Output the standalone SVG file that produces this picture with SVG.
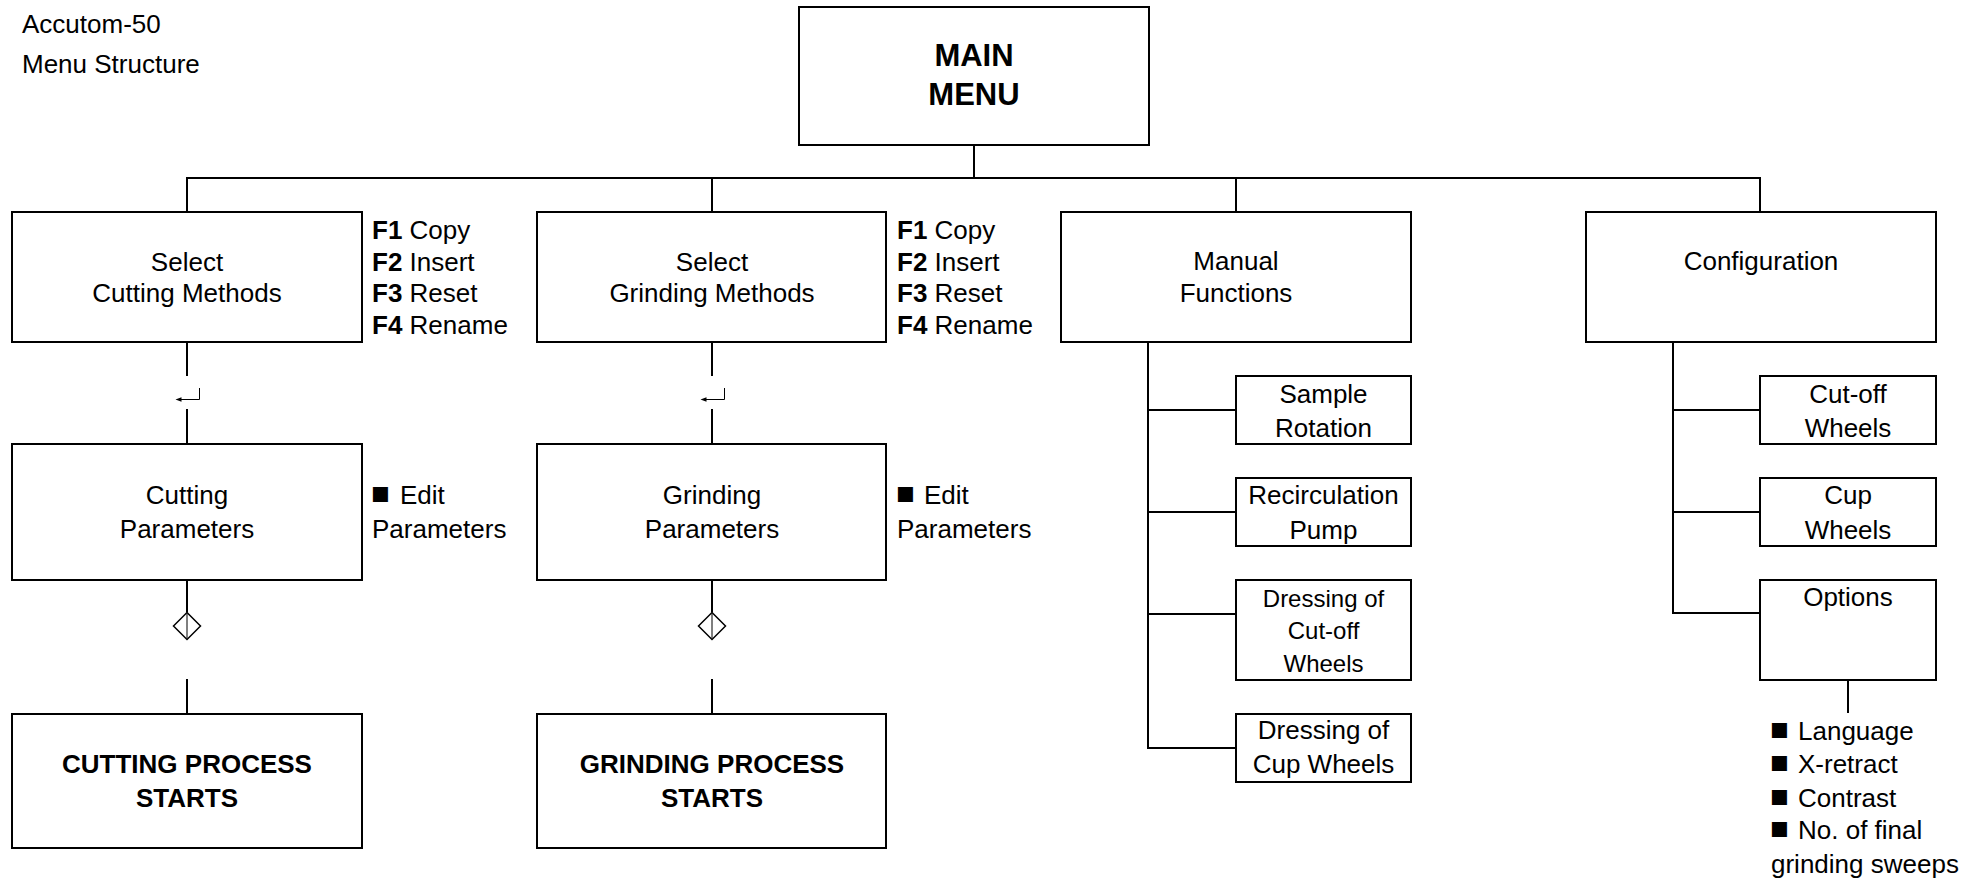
<svg xmlns="http://www.w3.org/2000/svg" width="1984" height="881" viewBox="0 0 1984 881">
  <style>
    .box { fill: #fff; stroke: #000; stroke-width: 2; }
    .ln { fill: none; stroke: #000; stroke-width: 2; }
    .thin { fill: none; stroke: #000; stroke-width: 1; }
    .dia { fill: #fff; stroke: #000; stroke-width: 1.5; }
    text { font-family: "Liberation Sans", Arial, Helvetica, sans-serif; font-size: 26px; fill: #000; }
    .c { text-anchor: middle; }
    .b { font-weight: bold; }
    .big { font-size: 31px; font-weight: bold; }
    .sm { font-size: 24px; }
    .sq { font-size: 31px; }
  </style>
  <defs>
    <!-- "enter" key glyph drawn on the vertical flow line -->
    <g id="enter">
      <path class="thin" d="M12.5 -11.5 V0 H-9"/>
      <path d="M-11.5 0 L-5.5 -2.2 L-5.5 2.2 Z" fill="#000"/>
    </g>
    <!-- start key diamond -->
    <g id="start">
      <path class="dia" d="M0 -13.5 L13.5 0 L0 13.5 L-13.5 0 Z"/>
      <line class="thin" x1="0" y1="-12" x2="0" y2="12"/>
    </g>
  </defs>

  <rect width="1984" height="881" fill="#fff"/>

  <!-- title -->
  <g id="title">
    <text x="22" y="33">Accutom-50</text>
    <text x="22" y="73">Menu Structure</text>
  </g>

  <!-- connectors -->
  <g id="connectors">
    <line class="ln" x1="974" y1="145" x2="974" y2="178"/>
    <line class="ln" x1="186" y1="178" x2="1761" y2="178"/>
    <line class="ln" x1="187" y1="178" x2="187" y2="212"/>
    <line class="ln" x1="712" y1="178" x2="712" y2="212"/>
    <line class="ln" x1="1236" y1="178" x2="1236" y2="212"/>
    <line class="ln" x1="1760" y1="178" x2="1760" y2="212"/>

    <!-- cutting column -->
    <line class="ln" x1="187" y1="342" x2="187" y2="376"/>
    <use href="#enter" x="187" y="399.5"/>
    <line class="ln" x1="187" y1="409" x2="187" y2="444"/>
    <line class="ln" x1="187" y1="580" x2="187" y2="612.5"/>
    <use href="#start" x="187" y="626"/>
    <line class="ln" x1="187" y1="679" x2="187" y2="714"/>

    <!-- grinding column -->
    <line class="ln" x1="712" y1="342" x2="712" y2="376"/>
    <use href="#enter" x="712" y="399.5"/>
    <line class="ln" x1="712" y1="409" x2="712" y2="444"/>
    <line class="ln" x1="712" y1="580" x2="712" y2="612.5"/>
    <use href="#start" x="712" y="626"/>
    <line class="ln" x1="712" y1="679" x2="712" y2="714"/>

    <!-- manual functions tree -->
    <path class="ln" d="M1148 342 V748 H1236"/>
    <line class="ln" x1="1148" y1="410" x2="1236" y2="410"/>
    <line class="ln" x1="1148" y1="512" x2="1236" y2="512"/>
    <line class="ln" x1="1148" y1="614" x2="1236" y2="614"/>

    <!-- configuration tree -->
    <path class="ln" d="M1673 342 V613 H1760"/>
    <line class="ln" x1="1673" y1="410" x2="1760" y2="410"/>
    <line class="ln" x1="1673" y1="512" x2="1760" y2="512"/>
    <line class="ln" x1="1848" y1="680" x2="1848" y2="713"/>
  </g>

  <!-- main menu -->
  <g id="main-menu">
    <rect class="box" x="799" y="7" width="350" height="138"/>
    <text class="c big" x="974" y="66">MAIN</text>
    <text class="c big" x="974" y="105">MENU</text>
  </g>

  <!-- cutting branch -->
  <g id="select-cutting">
    <rect class="box" x="12" y="212" width="350" height="130"/>
    <text class="c" x="187" y="271">Select</text>
    <text class="c" x="187" y="302">Cutting Methods</text>
  </g>
  <g id="cutting-keys">
    <text x="372" y="239"><tspan class="b">F1</tspan> Copy</text>
    <text x="372" y="271"><tspan class="b">F2</tspan> Insert</text>
    <text x="372" y="302"><tspan class="b">F3</tspan> Reset</text>
    <text x="372" y="334"><tspan class="b">F4</tspan> Rename</text>
  </g>
  <g id="cutting-parameters">
    <rect class="box" x="12" y="444" width="350" height="136"/>
    <text class="c" x="187" y="504">Cutting</text>
    <text class="c" x="187" y="538">Parameters</text>
  </g>
  <g id="cutting-edit">
    <text x="371" y="504"><tspan class="sq">■</tspan><tspan x="400">Edit</tspan></text>
    <text x="372" y="538">Parameters</text>
  </g>
  <g id="cutting-start">
    <rect class="box" x="12" y="714" width="350" height="134"/>
    <text class="c b" x="187" y="773">CUTTING PROCESS</text>
    <text class="c b" x="187" y="807">STARTS</text>
  </g>

  <!-- grinding branch -->
  <g id="select-grinding">
    <rect class="box" x="537" y="212" width="349" height="130"/>
    <text class="c" x="712" y="271">Select</text>
    <text class="c" x="712" y="302">Grinding Methods</text>
  </g>
  <g id="grinding-keys">
    <text x="897" y="239"><tspan class="b">F1</tspan> Copy</text>
    <text x="897" y="271"><tspan class="b">F2</tspan> Insert</text>
    <text x="897" y="302"><tspan class="b">F3</tspan> Reset</text>
    <text x="897" y="334"><tspan class="b">F4</tspan> Rename</text>
  </g>
  <g id="grinding-parameters">
    <rect class="box" x="537" y="444" width="349" height="136"/>
    <text class="c" x="712" y="504">Grinding</text>
    <text class="c" x="712" y="538">Parameters</text>
  </g>
  <g id="grinding-edit">
    <text x="896" y="504"><tspan class="sq">■</tspan><tspan x="924">Edit</tspan></text>
    <text x="897" y="538">Parameters</text>
  </g>
  <g id="grinding-start">
    <rect class="box" x="537" y="714" width="349" height="134"/>
    <text class="c b" x="712" y="773">GRINDING PROCESS</text>
    <text class="c b" x="712" y="807">STARTS</text>
  </g>

  <!-- manual functions -->
  <g id="manual-functions">
    <rect class="box" x="1061" y="212" width="350" height="130"/>
    <text class="c" x="1236" y="270">Manual</text>
    <text class="c" x="1236" y="302">Functions</text>
  </g>
  <g id="sample-rotation">
    <rect class="box" x="1236" y="376" width="175" height="68"/>
    <text class="c" x="1323.5" y="403">Sample</text>
    <text class="c" x="1323.5" y="437">Rotation</text>
  </g>
  <g id="recirculation-pump">
    <rect class="box" x="1236" y="478" width="175" height="68"/>
    <text class="c" x="1323.5" y="504">Recirculation</text>
    <text class="c" x="1323.5" y="539">Pump</text>
  </g>
  <g id="dressing-cutoff">
    <rect class="box" x="1236" y="580" width="175" height="100"/>
    <text class="c sm" x="1323.5" y="607">Dressing of</text>
    <text class="c sm" x="1323.5" y="639">Cut-off</text>
    <text class="c sm" x="1323.5" y="672">Wheels</text>
  </g>
  <g id="dressing-cup">
    <rect class="box" x="1236" y="714" width="175" height="68"/>
    <text class="c" x="1323.5" y="739">Dressing of</text>
    <text class="c" x="1323.5" y="773">Cup Wheels</text>
  </g>

  <!-- configuration -->
  <g id="configuration">
    <rect class="box" x="1586" y="212" width="350" height="130"/>
    <text class="c" x="1761" y="270">Configuration</text>
  </g>
  <g id="cutoff-wheels">
    <rect class="box" x="1760" y="376" width="176" height="68"/>
    <text class="c" x="1848" y="403">Cut-off</text>
    <text class="c" x="1848" y="437">Wheels</text>
  </g>
  <g id="cup-wheels">
    <rect class="box" x="1760" y="478" width="176" height="68"/>
    <text class="c" x="1848" y="504">Cup</text>
    <text class="c" x="1848" y="539">Wheels</text>
  </g>
  <g id="options">
    <rect class="box" x="1760" y="580" width="176" height="100"/>
    <text class="c" x="1848" y="606">Options</text>
  </g>
  <g id="options-list">
    <text x="1770" y="740"><tspan class="sq">■</tspan><tspan x="1798">Language</tspan></text>
    <text x="1770" y="773"><tspan class="sq">■</tspan><tspan x="1798">X-retract</tspan></text>
    <text x="1770" y="807"><tspan class="sq">■</tspan><tspan x="1798">Contrast</tspan></text>
    <text x="1770" y="839"><tspan class="sq">■</tspan><tspan x="1798">No. of final</tspan></text>
    <text x="1771" y="873">grinding sweeps</text>
  </g>
</svg>
